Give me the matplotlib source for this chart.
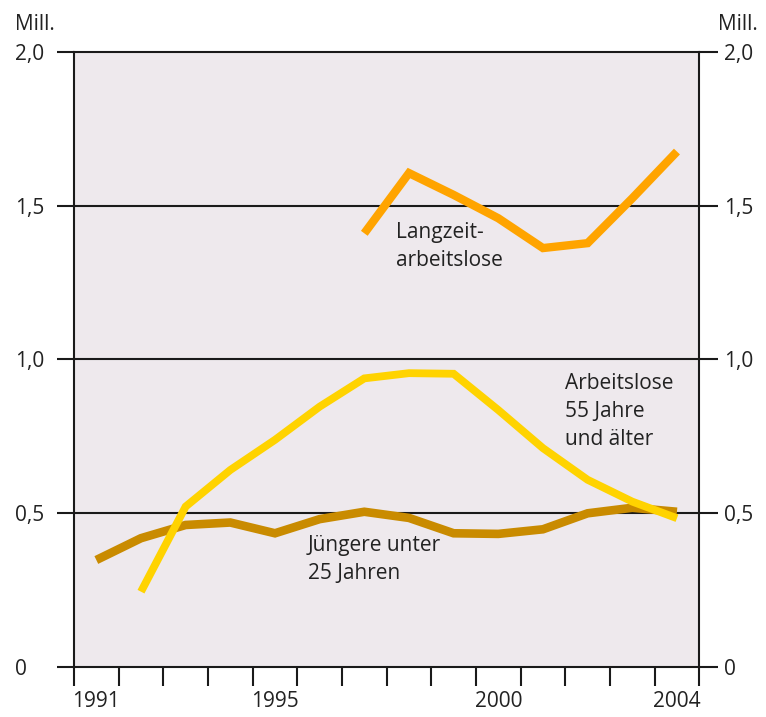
import numpy as np
import matplotlib
matplotlib.use("Agg")
import matplotlib.pyplot as plt

plt.rcParams['font.family'] = ['Open Sans', 'DejaVu Sans']

# Werte (Mill.)
jahre = np.arange(1991, 2005)
juengere = [0.347, 0.418, 0.461, 0.469, 0.434, 0.480, 0.504,
            0.484, 0.434, 0.432, 0.447, 0.499, 0.517, 0.504]
jahre_55 = np.arange(1992, 2005)
aeltere_55 = [0.244, 0.521, 0.640, 0.738, 0.846, 0.938, 0.955,
              0.953, 0.835, 0.711, 0.608, 0.537, 0.483]
jahre_lz = np.arange(1997, 2005)
langzeit = [1.410, 1.606, 1.535, 1.459, 1.362, 1.378, 1.524, 1.676]

y_ticks = [0, 0.5, 1.0, 1.5, 2.0]
y_labels = ['0', '0,5', '1,0', '1,5', '2,0']
x_labels = [1991, 1995, 2000, 2004]

farbe_lz = '#ffa400'
farbe_55 = '#ffd300'
farbe_jung = '#c98b00'
hintergrund = '#eee9ed'
linie = '#1a1a1a'
lw_achse = 1.5

fig = plt.figure(figsize=(7.66, 7.17), dpi=100)
ax = fig.add_axes([0.0966, 0.0702, 0.8163, 0.8573])
ax.set_facecolor(hintergrund)

ax.plot(jahre, juengere, color=farbe_jung, lw=6.2,
        solid_capstyle='butt', solid_joinstyle='miter', zorder=3)
ax.plot(jahre_55, aeltere_55, color=farbe_55, lw=5.6,
        solid_capstyle='butt', solid_joinstyle='miter', zorder=4)
ax.plot(jahre_lz, langzeit, color=farbe_lz, lw=6.0,
        solid_capstyle='butt', solid_joinstyle='miter', zorder=4)

ax.set_xlim(1990.5, 2004.5)
ax.set_ylim(0, 2.0)

# horizontale Linien
for y in y_ticks[1:-1]:
    ax.axhline(y, color=linie, lw=lw_achse, zorder=2)

for s in ax.spines.values():
    s.set_color(linie)
    s.set_linewidth(lw_achse)

# x-Achse: Striche zwischen den Jahren, Beschriftung in der Mitte
ax.set_xticks(np.arange(1990.5, 2005, 1.0))
ax.set_xticklabels([])
ax.set_xticks(x_labels, minor=True)
ax.set_xticklabels([str(j) for j in x_labels], minor=True)
ax.tick_params(axis='x', which='major', direction='out', length=13.5,
               width=lw_achse, color=linie)
ax.tick_params(axis='x', which='minor', length=0, pad=17.5, labelsize=15,
               labelcolor='#222222')

# linke y-Achse
ax.set_yticks(y_ticks)
ax.set_yticklabels(y_labels)
ax.tick_params(axis='y', direction='out', length=12.5, width=lw_achse,
               color=linie, pad=30, labelsize=15, labelcolor='#222222')
for lab in ax.get_yticklabels():
    lab.set_horizontalalignment('left')

# rechte y-Achse
ax2 = ax.twinx()
ax2.set_ylim(0, 2.0)
ax2.set_yticks(y_ticks)
ax2.set_yticklabels(y_labels)
ax2.tick_params(axis='y', direction='out', length=13.5, width=lw_achse,
                color=linie, pad=4, labelsize=15, labelcolor='#222222')
for s in ax2.spines.values():
    s.set_visible(False)

fig.text(15 / 766, 1 - 30 / 717, 'Mill.', fontsize=15, color='#222222',
         ha='left', va='baseline')
fig.text(718 / 766, 1 - 30 / 717, 'Mill.', fontsize=15, color='#222222',
         ha='left', va='baseline')

ax.text(1997.71, 1.447, 'Langzeit-\narbeitslose', fontsize=15,
        color='#222222', ha='left', va='top', linespacing=1.45, zorder=5)
ax.text(2001.49, 0.956, 'Arbeitslose\n55 Jahre\nund älter', fontsize=15,
        color='#222222', ha='left', va='top', linespacing=1.45, zorder=5)
ax.text(1995.74, 0.4285, 'Jüngere unter\n25 Jahren', fontsize=15,
        color='#222222', ha='left', va='top', linespacing=1.45, zorder=5)

fig.savefig('out.png', dpi=100, facecolor='white')
